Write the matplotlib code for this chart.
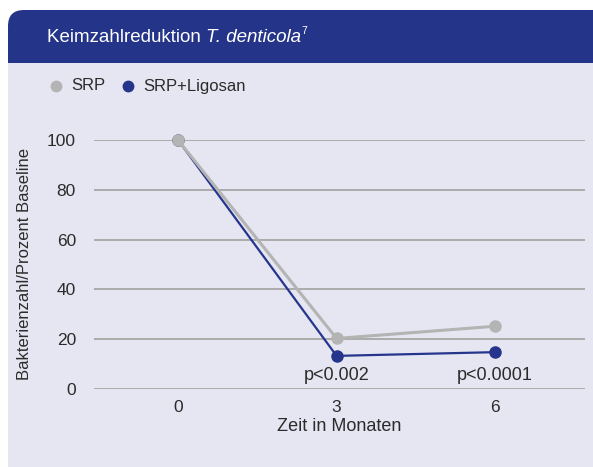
import numpy as np
import matplotlib
matplotlib.use('Agg')
import matplotlib.pyplot as plt
from matplotlib.patches import FancyBboxPatch, Rectangle

# data
months = [0, 3, 6]
srp = [100, 20.3, 25.2]
srp_ligosan = [100, 13.3, 14.8]
p_labels = ['', 'p<0.002', 'p<0.0001']
yticks = [0, 20, 40, 60, 80, 100]

header_col = '#243489'
body_col = '#e6e6f2'
grey_col = '#b4b4b4'
blue_col = '#26358c'
text_col = '#2b2b2b'

plt.rcParams['font.family'] = ['Liberation Sans', 'DejaVu Sans']

W, H = 593, 467
fig = plt.figure(figsize=(W / 100, H / 100), dpi=100, facecolor='white')

# card background drawn in pixel coords
bg = fig.add_axes([0, 0, 1, 1])
bg.set_xlim(0, W)
bg.set_ylim(H, 0)
bg.axis('off')
bg.add_patch(FancyBboxPatch((8, 10), 650, 300, boxstyle='round,pad=0,rounding_size=16',
                            fc=header_col, ec='none'))
bg.add_patch(Rectangle((8, 63), 650, 500, fc=body_col, ec='none'))

# title in pieces: plain, italic, superscript
tsize = 13.5
fig.canvas.draw()
r = fig.canvas.get_renderer()
x = 47
t1 = bg.text(x, 37, 'Keimzahlreduktion ', color='white', fontsize=tsize, va='center')
x += t1.get_window_extent(r).width
t2 = bg.text(x, 37, 'T. denticola', color='white', fontsize=tsize, style='italic', va='center')
x += t2.get_window_extent(r).width
bg.text(x + 0.5, 31, '7', color='white', fontsize=tsize * 0.55, va='center')

# legend
bg.plot([56], [86], 'o', ms=7.5, color=grey_col)
bg.text(71, 86, 'SRP', fontsize=12, color=text_col, va='center')
bg.plot([128], [86], 'o', ms=7.5, color=blue_col)
bg.text(143, 86, 'SRP+Ligosan', fontsize=12, color=text_col, va='center')

ax = fig.add_axes([94 / W, 1 - 389 / H, 491 / W, 249 / H])
ax.set_facecolor('none')
ax.set_xlim(-1.59, 7.70)
ax.set_ylim(0, 100)
for s in ax.spines.values():
    s.set_visible(False)
ax.set_yticks(yticks)
ax.set_xticks(months)
ax.yaxis.grid(True, color='#a6a6a6', lw=1.3)
ax.set_axisbelow(True)
ax.tick_params(length=0, labelsize=12.5, labelcolor=text_col)
ax.tick_params(axis='y', pad=13)
ax.tick_params(axis='x', pad=8)

ax.plot(months, srp_ligosan, '-o', color=blue_col, lw=1.6, ms=8, clip_on=False, zorder=3)
ax.plot(months, srp, '-o', color=grey_col, lw=2.2, ms=8, clip_on=False, zorder=4)

for xm, lab in zip(months, p_labels):
    if lab:
        ax.text(xm, 5.5, lab, fontsize=13, color=text_col, ha='center', va='center')

ax.set_xlabel('Zeit in Monaten', fontsize=13, color=text_col, labelpad=2)
ax.set_ylabel('Bakterienzahl/Prozent Baseline', fontsize=12, color=text_col)
ax.yaxis.set_label_coords(-(94 - 32) / 491, 0.5)

fig.savefig('out.png', dpi=100, facecolor='white')
